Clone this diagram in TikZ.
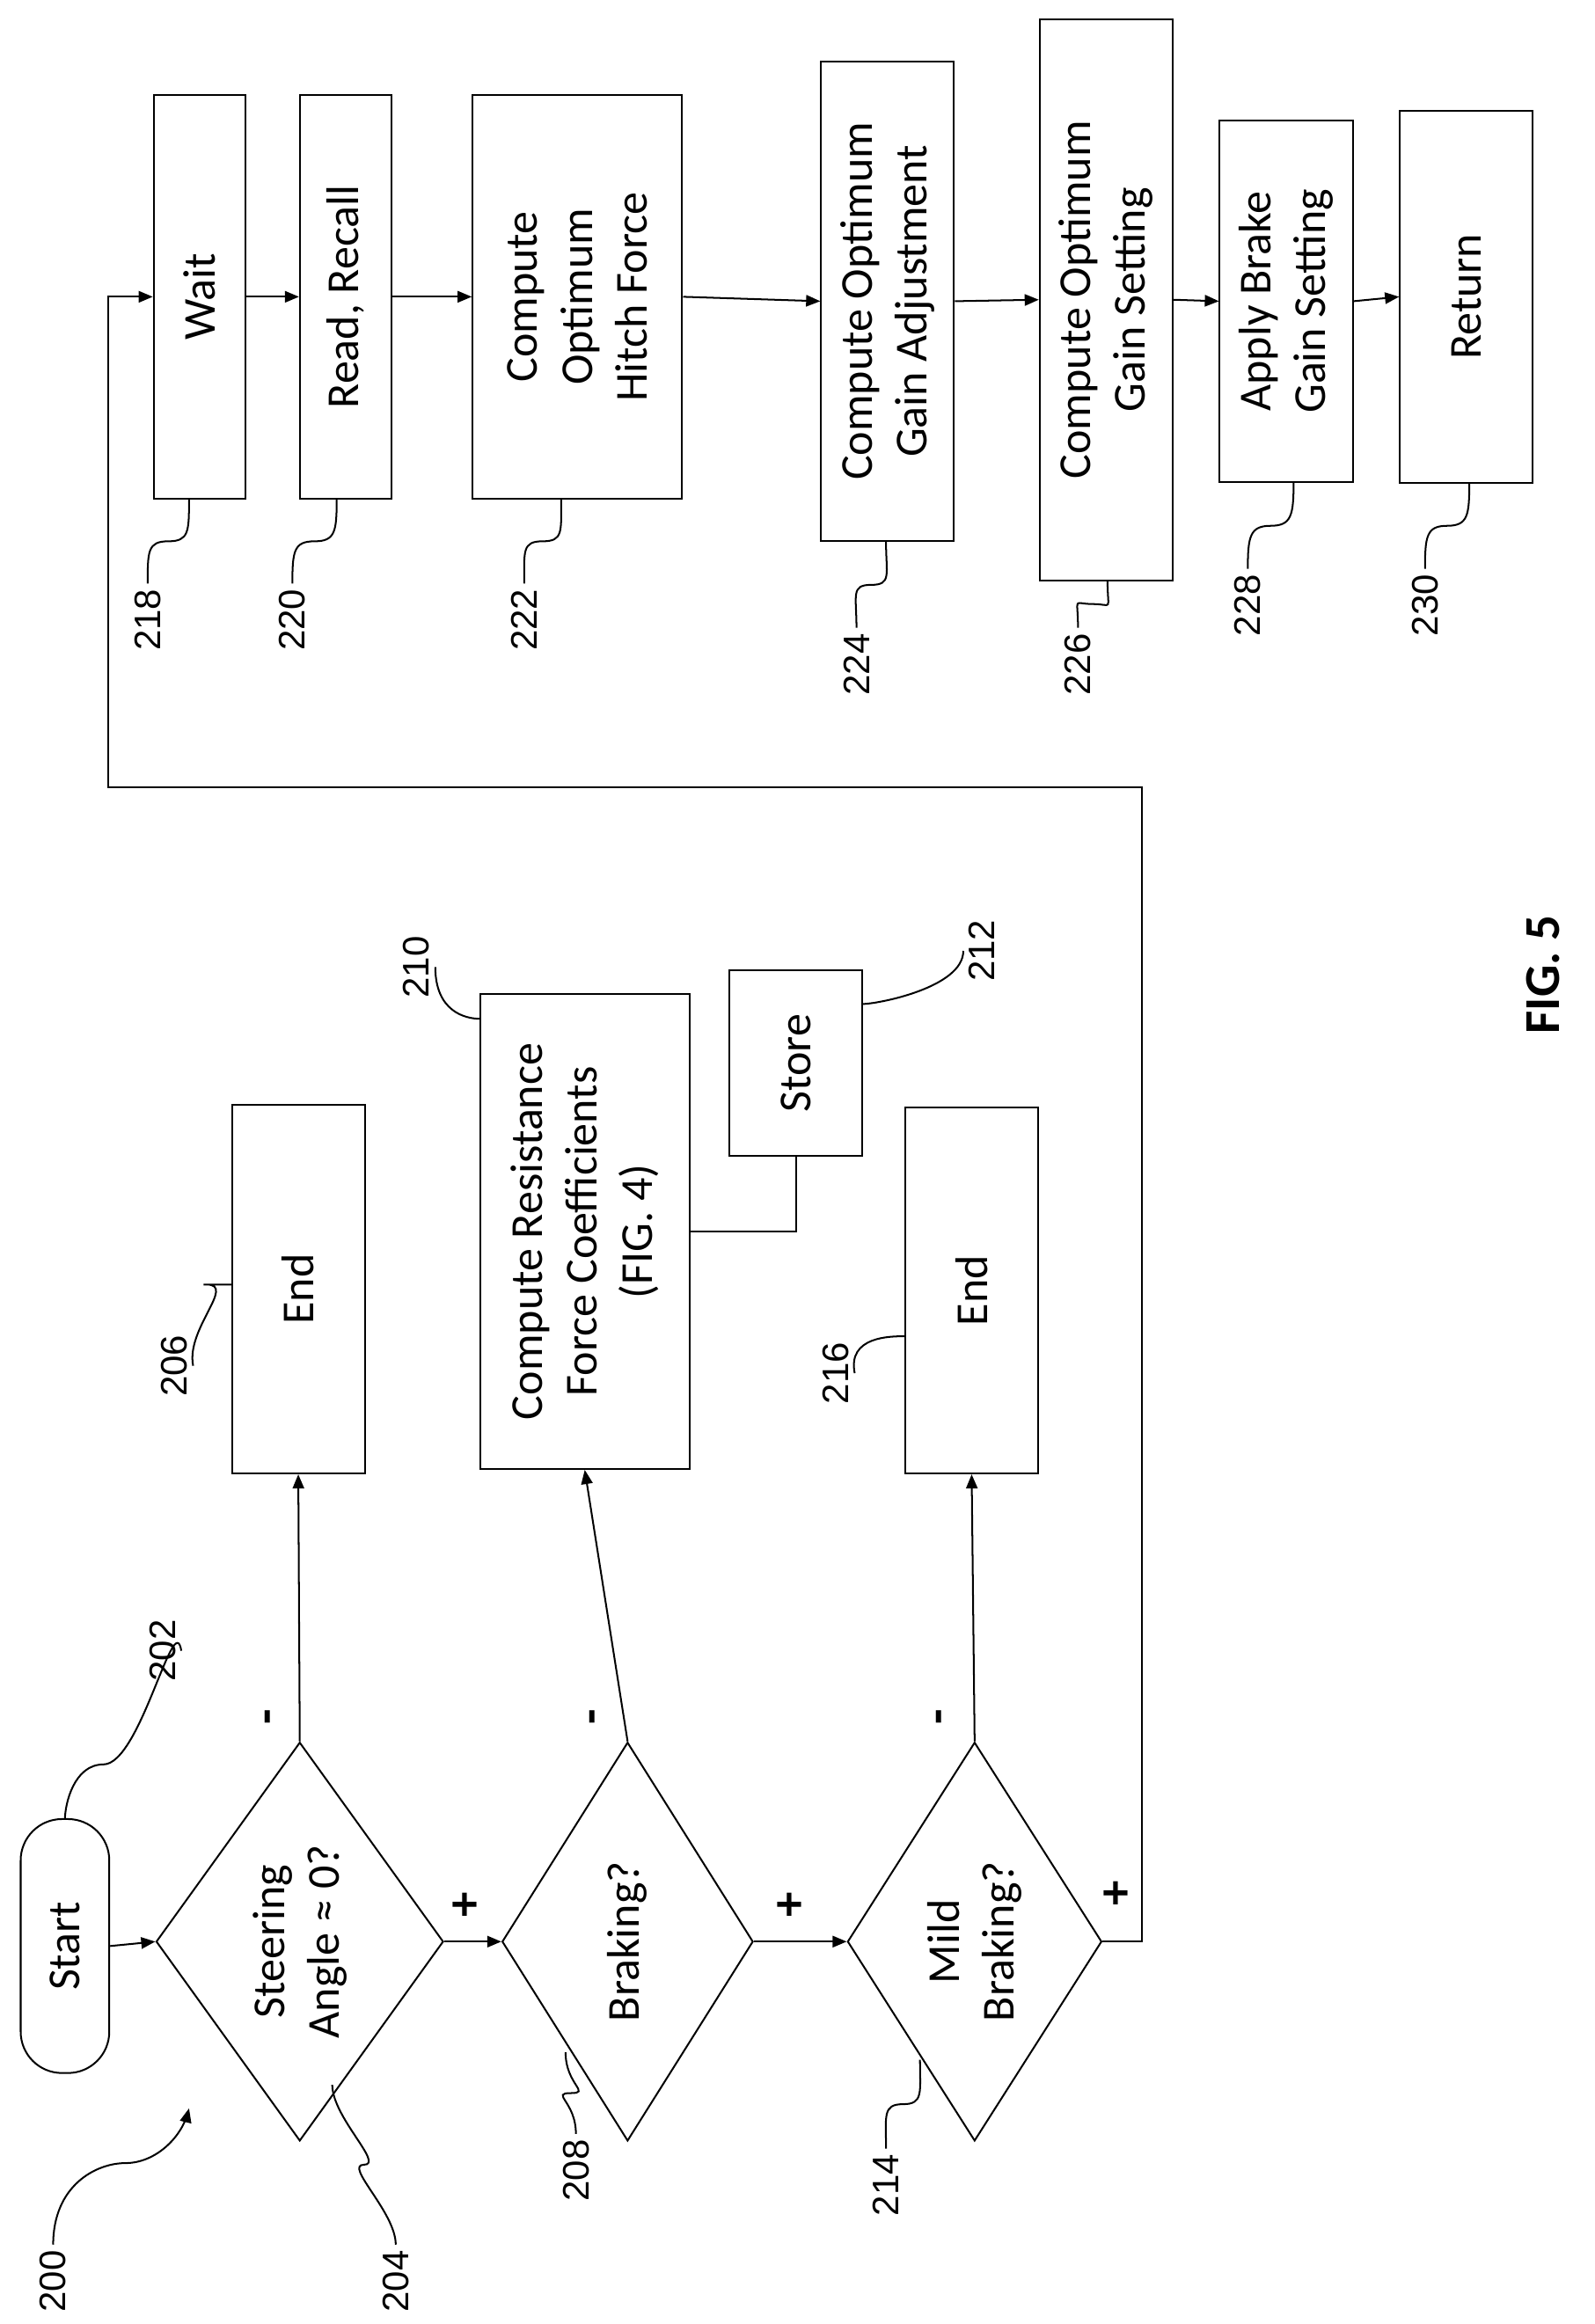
\documentclass[tikz,border=0pt]{standalone}
\usepackage{fontspec}
\setmainfont{Carlito}
\newfontfamily\numfont{Liberation Sans}
\usetikzlibrary{arrows,shapes.geometric,calc}

\newcommand{\squig}[2]{\draw (#1) .. controls +(0,-22) and +(-14,0) .. ($(#1)!0.5!(#2)$) .. controls +(14,0) and +(0,22) .. (#2);}

\begin{document}
\begin{tikzpicture}[x=1pt,y=-1pt,>=triangle 45,line width=1.2pt,
                    box/.style={draw,rectangle,rotate=90,align=center,inner sep=2pt,
                                font=\fontsize{31}{37}\selectfont},
                    dec/.style={draw,diamond,rotate=90,align=center,inner sep=0pt,
                                font=\fontsize{31}{37}\selectfont},
                    num/.style={rotate=90,font=\numfont\fontsize{25}{28}\selectfont},
                    sign/.style={rotate=90,font=\fontsize{34}{34}\selectfont\bfseries}]

  \useasboundingbox (0,0) rectangle (1080,1574);

  % left half
  \node[box,rounded corners=28pt,minimum width=172,minimum height=60] (start) at (44,1318) {Start};
  \node[dec,minimum width=270,minimum height=167] (steer) at (203,1315) {Steering\\Angle ≈ 0?};
  \node[dec,minimum width=270,minimum height=170] (brake) at (425,1315) {Braking?};
  \node[dec,minimum width=270,minimum height=170] (mild) at (660,1315) {Mild\\Braking?};
  \node[box,minimum width=250,minimum height=90] (endA) at (202,873) {End};
  \node[box,minimum width=322,minimum height=142] (resist) at (396,834) {Compute Resistance\\Force Coefficients\\(FIG. 4)};
  \node[box,minimum width=126,minimum height=90] (store) at (539,720) {Store};
  \node[box,minimum width=248,minimum height=90] (endB) at (658,874) {End};

  % right half
  \node[box,minimum width=273,minimum height=62] (wait) at (135,201) {Wait};
  \node[box,minimum width=273,minimum height=62] (read) at (234,201) {Read, Recall};
  \node[box,minimum width=273,minimum height=142] (hitch) at (391,201) {Compute\\Optimum\\Hitch Force};
  \node[box,minimum width=325,minimum height=90] (gadj) at (601,204) {Compute Optimum\\Gain Adjustment};
  \node[box,minimum width=380,minimum height=90] (gset) at (749,203) {Compute Optimum\\Gain Setting};
  \node[box,minimum width=245,minimum height=90] (apply) at (871,204) {Apply Brake\\Gain Setting};
  \node[box,minimum width=252,minimum height=90] (ret) at (993,201) {Return};

  \coordinate (loopA) at (773,533);
  \coordinate (loopB) at (73,533);

  \draw[->] (start.south) -- (steer.north);
  \draw[->] (steer.south) -- (brake.north);
  \draw[->] (brake.south) -- (mild.north);
  \draw[->] (steer.east) -- (endA.west);
  \draw[->] (brake.east) -- (resist.west);
  \draw[->] (mild.east) -- (endB.west);
  \draw (resist.south) -| (store.west);
  \draw[->] (mild.south) -| (loopA) -- (loopB) |- (wait.north);
  \draw[->] (wait.south) -- (read.north);
  \draw[->] (read.south) -- (hitch.north);
  \draw[->] (hitch.south) -- (gadj.north);
  \draw[->] (gadj.south) -- (gset.north);
  \draw[->] (gset.south) -- (apply.north);
  \draw[->] (apply.south) -- (ret.north);

  \node[sign] (m1) at (185,1163) {-};
  \node[sign] (m2) at (405,1163) {-};
  \node[sign] (m3) at (640,1163) {-};
  \node[sign] (p1) at (316,1290) {+};
  \node[sign] (p2) at (536,1290) {+};
  \node[sign] (p3) at (757,1282) {+};

  % reference numerals
  \node[num] (n200) at (36,1545) {200};
  \node[num] (n202) at (110,1118) {202};
  \node[num] (n204) at (268,1545) {204};
  \node[num] (n206) at (118,925) {206};
  \node[num] (n208) at (390,1470) {208};
  \node[num] (n210) at (282,655) {210};
  \node[num] (n212) at (665,644) {212};
  \node[num] (n214) at (600,1480) {214};
  \node[num] (n216) at (566,930) {216};
  \node[num] (n218) at (100,420) {218};
  \node[num] (n220) at (198,420) {220};
  \node[num] (n222) at (355,420) {222};
  \node[num] (n224) at (580,450) {224};
  \node[num] (n226) at (730,450) {226};
  \node[num] (n228) at (845,410) {228};
  \node[num] (n230) at (965,410) {230};
  \node[rotate=90,font=\fontsize{34}{34}\selectfont\bfseries] (fig) at (1045,660) {FIG. 5};

  \draw[->] (n200.east) .. controls +(0,-40) and +(-20,0) .. (85,1465) .. controls +(20,0) and +(-5,20) .. (128,1428);
  \squig{n204.east}{225,1412}
  \squig{n208.east}{383,1390}
  \squig{n214.east}{623,1395}
  \draw (n202.south) .. controls +(-5,-30) and +(25,0) .. (70,1195) .. controls +(-20,0) and +(0,-10) .. (44,1232);
  \draw (n206.south) .. controls +(-5,-25) and +(20,0) .. (140,870) .. controls +(-10,0) and +(0,0) .. (157,870);
  \draw (n210.south) .. controls +(0,30) and +(-10,0) .. (325,690);
  \draw (n212.north) .. controls +(0,25) and +(10,0) .. (584,680);
  \draw (n216.south) .. controls +(-5,-25) and +(-10,0) .. (613,905);
  \squig{n218.east}{128,338}
  \squig{n220.east}{228,338}
  \squig{n222.east}{380,338}
  \squig{n224.east}{600,367}
  \squig{n226.east}{750,393}
  \squig{n228.east}{876,327}
  \squig{n230.east}{995,327}
\end{tikzpicture}
\end{document}
